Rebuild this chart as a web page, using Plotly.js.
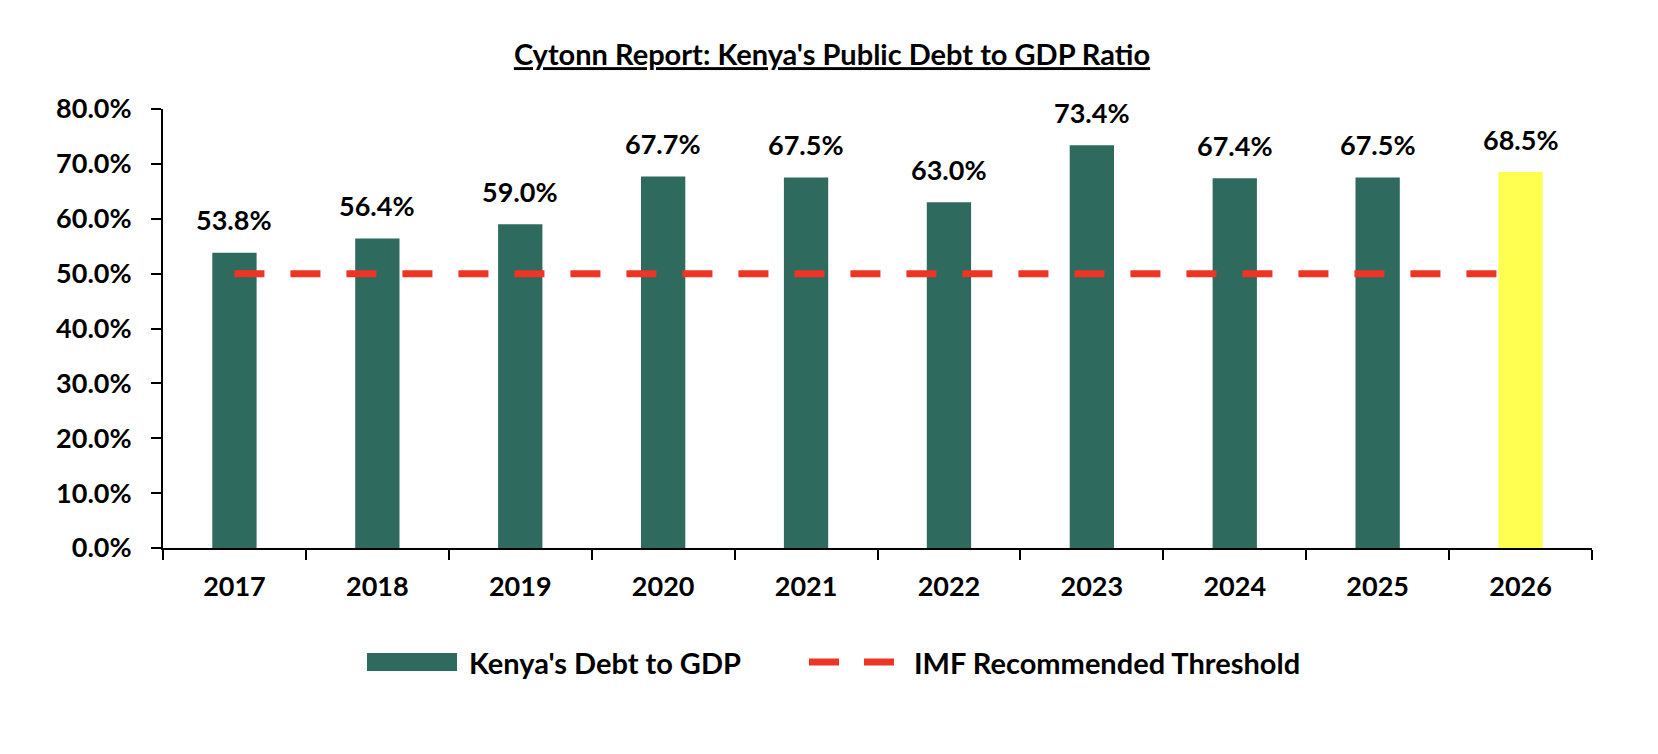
<!DOCTYPE html>
<html>
<head>
<meta charset="utf-8">
<script src="https://cdn.plot.ly/plotly-3.0.1.min.js"></script>
<style>
  html, body { margin: 0; padding: 0; background: #fff; }
  #chart { width: 1658px; height: 754px; }
</style>
</head>
<body>
<div id="chart"></div>
<script>
// data
let years = ['2017', '2018', '2019', '2020', '2021', '2022', '2023', '2024', '2025', '2026']
let debtToGdp = [53.8, 56.4, 59.0, 67.7, 67.5, 63.0, 73.4, 67.4, 67.5, 68.5]
let imfThreshold = [50, 50, 50, 50, 50, 50, 50, 50, 50, 50]
let yTicks = [0, 10, 20, 30, 40, 50, 60, 70, 80]
let projectedYear = '2026'

let green = '#2e6a5e'
let yellow = '#ffff4f'
let red = '#ec3525'
let font = 'Lato, "Open Sans", sans-serif'

// plot area in pixels, used to place the hand drawn legend
let W = 1658, H = 754
let margin = { l: 163, r: 66, t: 109, b: 206 }
let plotW = W - margin.l - margin.r
let plotH = H - margin.t - margin.b
let px = x => (x - margin.l) / plotW
let py = y => (H - margin.b - y) / plotH

let bold = size => ({ family: font, size: size, color: '#000', weight: 'bold' })

let bars = {
    x: years,
    y: debtToGdp,
    type: 'bar',
    width: 0.31,
    marker: { color: years.map(y => y == projectedYear ? yellow : green) },
    hoverinfo: 'x+y',
    showlegend: false
}

let threshold = {
    x: years,
    y: imfThreshold,
    type: 'scatter',
    mode: 'lines',
    line: { color: red, width: 7, dash: '30px,26px' },
    showlegend: false
}

// value labels over the bars (x given as category index so '2017' is not read as a number)
let labels = years.map((y, i) => ({
    x: i,
    y: debtToGdp[i],
    text: debtToGdp[i].toFixed(1) + '%',
    showarrow: false,
    yanchor: 'middle',
    yshift: 33,
    font: bold(27)
}))

let legendY = py(662)
let legendText = [
    { x: px(467), text: "Kenya's Debt to GDP" },
    { x: px(912), text: 'IMF Recommended Threshold' }
].map(t => ({
    xref: 'paper', yref: 'paper',
    x: t.x, y: legendY,
    xanchor: 'left', yanchor: 'middle',
    text: t.text,
    showarrow: false,
    font: bold(29)
}))

let legendShapes = [
    {
        type: 'rect', xref: 'paper', yref: 'paper',
        x0: px(367), x1: px(457), y0: py(671), y1: py(653),
        fillcolor: green, line: { width: 0 }
    },
    {
        type: 'line', xref: 'paper', yref: 'paper',
        x0: px(809), x1: px(895), y0: legendY, y1: legendY,
        line: { color: red, width: 7, dash: '30px,25px' }
    }
]

let layout = {
    width: W,
    height: H,
    margin: margin,
    paper_bgcolor: '#fff',
    plot_bgcolor: '#fff',
    font: { family: font, color: '#000' },
    title: {
        text: "Cytonn Report: Kenya's Public Debt to GDP Ratio",
        x: 832 / W, xref: 'container', xanchor: 'center',
        y: 1 - 55 / H, yref: 'container', yanchor: 'middle',
        font: Object.assign(bold(29), { lineposition: 'under' })
    },
    xaxis: {
        type: 'category',
        showgrid: false,
        showline: true,
        linecolor: '#000',
        linewidth: 2,
        ticks: 'outside',
        tickson: 'boundaries',
        ticklen: 10,
        tickwidth: 2,
        tickcolor: '#000',
        ticklabelstandoff: 14,
        tickfont: bold(27),
        range: [-0.5, years.length - 0.5]
    },
    yaxis: {
        range: [0, 80],
        tickvals: yTicks,
        ticktext: yTicks.map(v => v.toFixed(1) + '%'),
        showgrid: false,
        zeroline: false,
        showline: true,
        linecolor: '#000',
        linewidth: 2,
        ticks: 'outside',
        ticklen: 10,
        tickwidth: 2,
        tickcolor: '#000',
        ticklabelstandoff: 14,
        tickfont: bold(27)
    },
    annotations: labels.concat(legendText),
    shapes: legendShapes,
    showlegend: false
}

Plotly.newPlot('chart', [bars, threshold], layout, { displayModeBar: false, staticPlot: true })
</script>
</body>
</html>
